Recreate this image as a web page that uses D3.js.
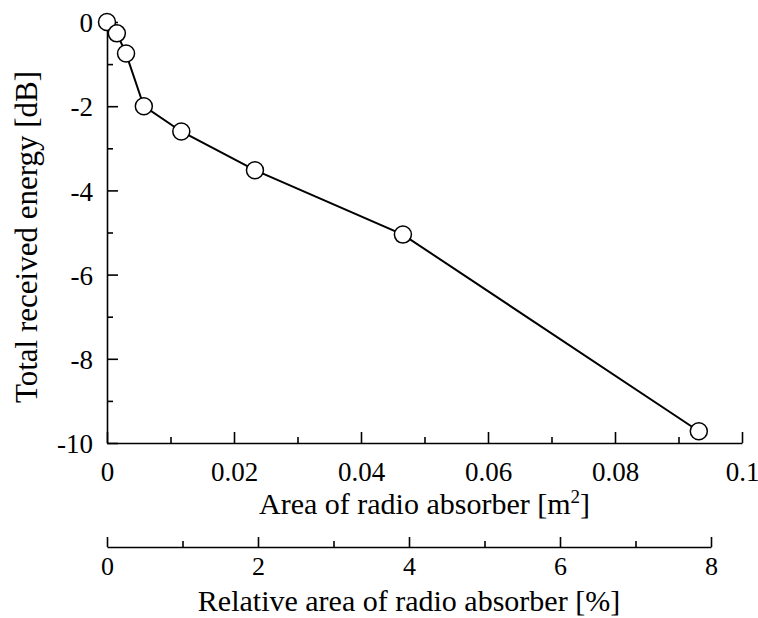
<!DOCTYPE html>
<html>
<head>
<meta charset="utf-8">
<script src="https://cdn.jsdelivr.net/npm/d3@7"></script>
<style>
body { margin: 0; background: #fff; }
text { font-family: "Liberation Serif", "Times New Roman", serif; fill: #000; }
</style>
</head>
<body>
<div id="chart"></div>
<script>
// data
var areaM2 = [0, 0.00155, 0.003, 0.0058, 0.0117, 0.0233, 0.0466, 0.0932];
var energyDb = [0, -0.27, -0.75, -2.0, -2.6, -3.52, -5.05, -9.72];
var xTicks = [0, 0.02, 0.04, 0.06, 0.08, 0.1];
var xMinor = [0.01, 0.03, 0.05, 0.07, 0.09];
var yTicks = [0, -2, -4, -6, -8, -10];
var yMinor = [-1, -3, -5, -7, -9];
var pctTicks = [0, 2, 4, 6, 8];
var pctMinor = [1, 3, 5, 7];

var W = 758, H = 618;
var mLeft = 107, mRight = 742, mTop = 22, mBottom = 443;
var pctRight = 711, pctY = 547;

var svg = d3.select('#chart').append('svg')
	.attr('width', W)
	.attr('height', H);

var x = d3.scaleLinear().domain([0, 0.1]).range([mLeft, mRight]);
var y = d3.scaleLinear().domain([-10, 0]).range([mBottom, mTop]);
var xp = d3.scaleLinear().domain([0, 8]).range([mLeft, pctRight]);

var fmtX = function(d) { return d === 0 ? '0' : String(+d.toFixed(2)); };

function styleAxis(g, fs) {
	g.attr('font-size', null).attr('font-family', null);
	g.select('.domain').attr('stroke', '#000').attr('stroke-width', 1.6);
	g.selectAll('.tick line').attr('stroke', '#000').attr('stroke-width', 1.6);
	g.selectAll('.tick text').attr('font-size', fs + 'px');
}

function minorTicks(g) {
	g.select('.domain').remove();
	g.selectAll('.tick line').attr('stroke', '#000').attr('stroke-width', 1.6);
}

// bottom axis (m2), ticks point inward
var gx = svg.append('g').attr('transform', 'translate(0,' + mBottom + ')')
	.call(d3.axisBottom(x).tickValues(xTicks).tickFormat(fmtX).tickSizeInner(-11).tickSizeOuter(0).tickPadding(19));
styleAxis(gx, 27);
svg.append('g').attr('transform', 'translate(0,' + mBottom + ')')
	.call(d3.axisBottom(x).tickValues(xMinor).tickFormat('').tickSizeInner(-6).tickSizeOuter(0))
	.call(minorTicks);

// left axis
var gy = svg.append('g').attr('transform', 'translate(' + mLeft + ',0)')
	.call(d3.axisLeft(y).tickValues(yTicks).tickFormat(function(d) { return String(d); }).tickSizeInner(-11).tickSizeOuter(0).tickPadding(14));
styleAxis(gy, 27);
gy.selectAll('.tick text').attr('dy', '0.36em');
svg.append('g').attr('transform', 'translate(' + mLeft + ',0)')
	.call(d3.axisLeft(y).tickValues(yMinor).tickFormat('').tickSizeInner(-6).tickSizeOuter(0))
	.call(minorTicks);

// second axis (percent)
var gp = svg.append('g').attr('transform', 'translate(0,' + pctY + ')')
	.call(d3.axisBottom(xp).tickValues(pctTicks).tickFormat(d3.format('d')).tickSizeInner(-10).tickSizeOuter(0).tickPadding(10));
styleAxis(gp, 26);
svg.append('g').attr('transform', 'translate(0,' + pctY + ')')
	.call(d3.axisBottom(xp).tickValues(pctMinor).tickFormat('').tickSizeInner(-6).tickSizeOuter(0))
	.call(minorTicks);

// axis titles
var xt = svg.append('text')
	.attr('x', (mLeft + mRight) / 2)
	.attr('y', 514)
	.attr('text-anchor', 'middle')
	.attr('font-size', '30px')
	.text('Area of radio absorber [m');
xt.append('tspan').attr('dy', '-11').attr('font-size', '19px').text('2');
xt.append('tspan').attr('dy', '11').text(']');

svg.append('text')
	.attr('x', (mLeft + pctRight) / 2)
	.attr('y', 611)
	.attr('text-anchor', 'middle')
	.attr('font-size', '30px')
	.text('Relative area of radio absorber [%]');

svg.append('text')
	.attr('transform', 'translate(37,237) rotate(-90)')
	.attr('text-anchor', 'middle')
	.attr('font-size', '31px')
	.text('Total received energy [dB]');

// line + markers
var pts = areaM2.map(function(a, i) { return { x: a, y: energyDb[i] }; });

var line = d3.line()
	.x(function(d) { return x(d.x); })
	.y(function(d) { return y(d.y); });

svg.append('path')
	.attr('d', line(pts))
	.attr('fill', 'none')
	.attr('stroke', '#000')
	.attr('stroke-width', 2);

svg.selectAll('circle.pt')
	.data(pts)
	.enter().append('circle')
	.attr('class', 'pt')
	.attr('cx', function(d) { return x(d.x); })
	.attr('cy', function(d) { return y(d.y); })
	.attr('r', 8.5)
	.attr('fill', '#fff')
	.attr('stroke', '#000')
	.attr('stroke-width', 1.5);
</script>
</body>
</html>
